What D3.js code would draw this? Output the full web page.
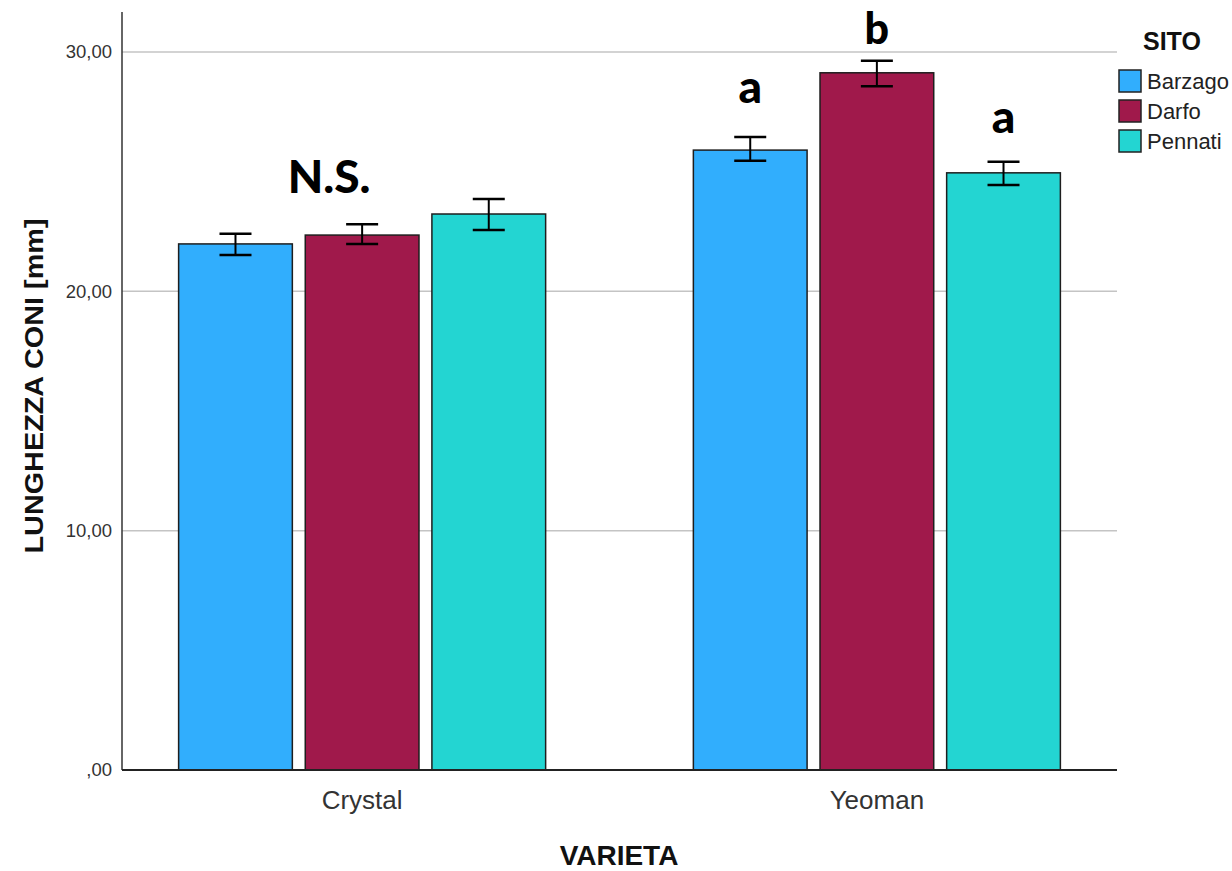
<!DOCTYPE html>
<html><head><meta charset="utf-8">
<script src="https://cdn.jsdelivr.net/npm/d3@7"></script>
<style>body{margin:0;background:#fff}svg{display:block}</style>
</head><body>
<svg id="c" width="1232" height="871"></svg>
<script>
const categories = ["Crystal", "Yeoman"];
const sites = ["Barzago", "Darfo", "Pennati"];
const means = {
  Barzago: [21.98, 25.90],
  Darfo:   [22.35, 29.13],
  Pennati: [23.23, 24.95]
};
const errLow = {
  Barzago: [21.52, 25.45],
  Darfo:   [21.98, 28.57],
  Pennati: [22.56, 24.44]
};
const errHigh = {
  Barzago: [22.40, 26.45],
  Darfo:   [22.80, 29.63],
  Pennati: [23.86, 25.41]
};
const yTicks = [0, 10, 20, 30];
const yTickLabels = [",00", "10,00", "20,00", "30,00"];
const annotCategory = ["Crystal", "Yeoman", "Yeoman", "Yeoman"];
const annotSite = [null, "Barzago", "Darfo", "Pennati"];
const annotText = ["N.S.", "a", "b", "a"];
const annotValue = [24.1, 27.87, 30.35, 26.62];
const colors = ["#31aefd", "#a0194b", "#23d5d2"];

const svg = d3.select("#c");
const mLeft = 122, mRight = 1117, mTop = 12, mBottom = 770;

const y = d3.scaleLinear().domain([0, 31.67]).range([mBottom, mTop]);
const x0 = d3.scaleBand().domain(categories).range([mLeft, mRight]).paddingInner(0.287).paddingOuter(0.11);
const x1 = d3.scaleBand().domain(sites).range([0, x0.bandwidth()]).paddingInner(0.102).paddingOuter(0);
const color = d3.scaleOrdinal().domain(sites).range(colors);

// gridlines
svg.append("g").selectAll("line").data(yTicks.filter(d => d > 0)).join("line")
  .attr("x1", mLeft).attr("x2", mRight)
  .attr("y1", d => y(d)).attr("y2", d => y(d))
  .attr("stroke", "#c4c4c4").attr("stroke-width", 1.5);

// y axis
const yAxis = d3.axisLeft(y).tickValues(yTicks).tickSize(0).tickPadding(10)
  .tickFormat((d, i) => yTickLabels[i]);
const gy = svg.append("g").attr("transform", `translate(${mLeft},0)`).call(yAxis);
gy.select(".domain").remove();
gy.selectAll("text").attr("font-family", "Liberation Sans, Arial, sans-serif")
  .attr("font-size", 18.5).attr("fill", "#333");
svg.append("line").attr("x1", mLeft).attr("x2", mLeft).attr("y1", mTop).attr("y2", mBottom)
  .attr("stroke", "#333").attr("stroke-width", 1.5);

// bars
const data = [];
categories.forEach((c, ci) => sites.forEach(s => data.push({
  c, s, v: means[s][ci], lo: errLow[s][ci], hi: errHigh[s][ci]
})));
svg.append("g").selectAll("rect").data(data).join("rect")
  .attr("x", d => x0(d.c) + x1(d.s))
  .attr("width", x1.bandwidth())
  .attr("y", d => y(d.v))
  .attr("height", d => y(0) - y(d.v))
  .attr("fill", d => color(d.s))
  .attr("stroke", "#1e1e1e").attr("stroke-width", 1.5);

// error bars
const eb = svg.append("g").attr("stroke", "#000").attr("stroke-width", 2);
data.forEach(d => {
  const cx = x0(d.c) + x1(d.s) + x1.bandwidth() / 2;
  eb.append("line").attr("x1", cx).attr("x2", cx).attr("y1", y(d.hi)).attr("y2", y(d.lo));
  eb.append("line").attr("x1", cx - 16).attr("x2", cx + 16).attr("y1", y(d.hi)).attr("y2", y(d.hi)).attr("stroke-width", 2.5);
  eb.append("line").attr("x1", cx - 16).attr("x2", cx + 16).attr("y1", y(d.lo)).attr("y2", y(d.lo)).attr("stroke-width", 2.5);
});

// x axis
svg.append("line").attr("x1", mLeft).attr("x2", mRight).attr("y1", mBottom).attr("y2", mBottom)
  .attr("stroke", "#222").attr("stroke-width", 2);
const xAxis = d3.axisBottom(x0).tickSize(0).tickPadding(0);
const gx = svg.append("g").attr("transform", `translate(0,${mBottom})`).call(xAxis);
gx.select(".domain").remove();
gx.selectAll("text").attr("font-family", "Liberation Sans, Arial, sans-serif")
  .attr("font-size", 26).attr("fill", "#333").attr("dy", null).attr("y", 39);

// annotations
svg.append("g").selectAll("text").data(annotText).join("text")
  .attr("x", (d, i) => annotSite[i] ? x0(annotCategory[i]) + x1(annotSite[i]) + x1.bandwidth() / 2
                                    : x0(annotCategory[i]) + x1("Darfo") + x1.bandwidth() / 2 - 33)
  .attr("y", (d, i) => y(annotValue[i]))
  .attr("text-anchor", "middle")
  .attr("font-family", "Lato, 'Noto Sans', sans-serif").attr("font-weight", 900)
  .attr("font-size", (d, i) => i === 2 ? 43 : 46).attr("fill", "#000")
  .text(d => d);

// axis titles
svg.append("text").attr("x", 619).attr("y", 865).attr("text-anchor", "middle")
  .attr("font-family", "Liberation Sans, Arial, sans-serif").attr("font-weight", "bold")
  .attr("font-size", 28).attr("fill", "#111").text("VARIETA");
svg.append("text").attr("transform", "translate(43,386) rotate(-90)").attr("text-anchor", "middle")
  .attr("font-family", "Liberation Sans, Arial, sans-serif").attr("font-weight", "bold")
  .attr("font-size", 25).attr("fill", "#111")
  .attr("textLength", 335).attr("lengthAdjust", "spacingAndGlyphs")
  .text("LUNGHEZZA CONI [mm]");

// legend
const lg = svg.append("g");
lg.append("text").attr("x", 1143).attr("y", 50)
  .attr("font-family", "Liberation Sans, Arial, sans-serif").attr("font-weight", "bold")
  .attr("font-size", 25).attr("fill", "#111").text("SITO");
const li = lg.selectAll("g.item").data(sites).join("g").attr("class", "item")
  .attr("transform", (d, i) => `translate(1119,${70 + i * 30})`);
li.append("rect").attr("width", 22).attr("height", 22).attr("fill", d => color(d))
  .attr("stroke", "#222").attr("stroke-width", 1.5);
li.append("text").attr("x", 28).attr("y", 19)
  .attr("font-family", "Liberation Sans, Arial, sans-serif")
  .attr("font-size", 22).attr("fill", "#222").text(d => d);
</script>
</body></html>
